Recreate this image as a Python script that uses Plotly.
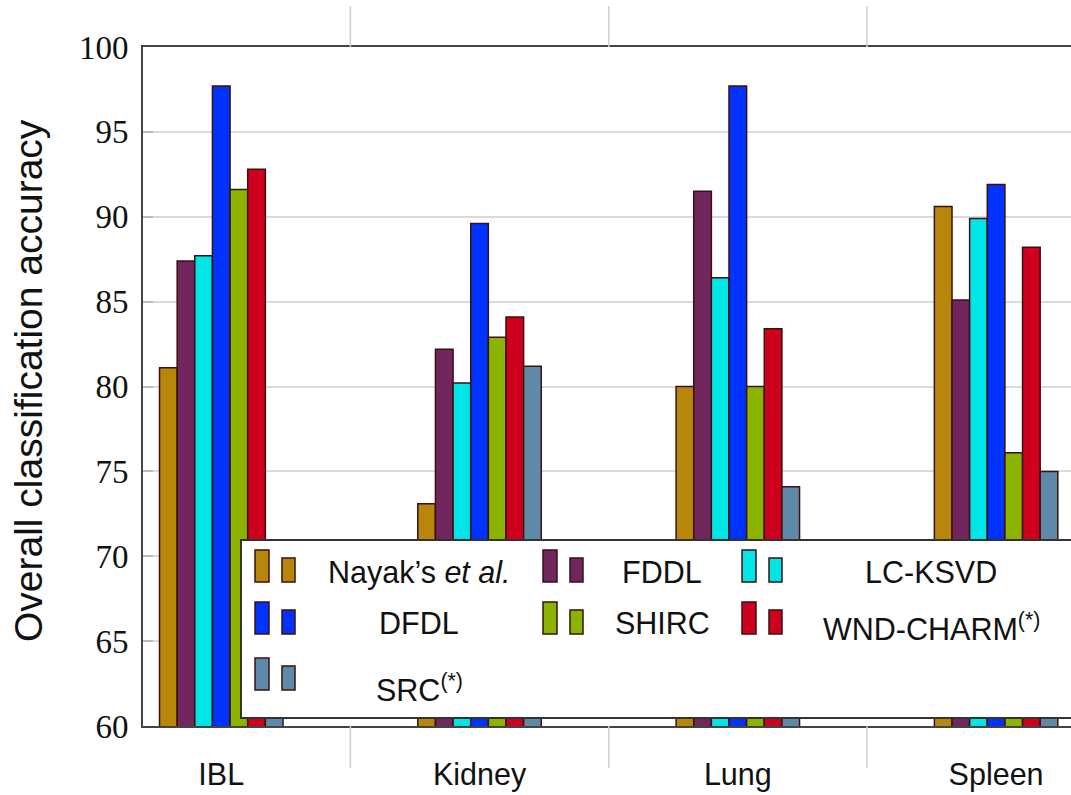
import plotly.graph_objects as go

categories = ["IBL", "Kidney", "Lung", "Spleen"]
series_names = ["Nayak’s <i>et al.</i>", "FDDL", "LC-KSVD", "DFDL", "SHIRC",
                "WND-CHARM<sup>(*)</sup>", "SRC<sup>(*)</sup>"]
nayak = [81.1, 73.1, 80.0, 90.6]
fddl = [87.4, 82.2, 91.5, 85.1]
lcksvd = [87.7, 80.2, 86.4, 89.9]
dfdl = [97.7, 89.6, 97.7, 91.9]
shirc = [91.6, 82.9, 80.0, 76.1]
wndcharm = [92.8, 84.1, 83.4, 88.2]
src = [65.0, 81.2, 74.1, 75.0]
yticks = [60, 65, 70, 75, 80, 85, 90, 95, 100]

values = [nayak, fddl, lcksvd, dfdl, shirc, wndcharm, src]
colors = ["#B8860B", "#72265E", "#00E5E5", "#0033FF", "#8AB400", "#CE001E", "#5E89A8"]
edge = "#3a1010"

W, H = 1071, 795
L, R, T, B = 143, 1071, 47, 726
PW, PH = R - L, B - T


def px(x):
    return (x - L) / PW


def py(y):
    return (B - y) / PH


fig = go.Figure()
x_idx = list(range(len(categories)))
for name, vals, col in zip(series_names, values, colors):
    fig.add_trace(go.Bar(x=x_idx, y=vals, base=0, name=name,
                         marker=dict(color=col, line=dict(color=edge, width=1.5)),
                         showlegend=False))

shapes = []
# category separator lines outside the plot
for s in [0.5, 1.5, 2.5]:
    shapes.append(dict(type="line", xref="x", yref="paper", x0=s, x1=s,
                       y0=1, y1=1 + 41 / PH, line=dict(color="#cfcfcf", width=1.5)))
    shapes.append(dict(type="line", xref="x", yref="paper", x0=s, x1=s,
                       y0=0, y1=-42 / PH, line=dict(color="#cfcfcf", width=1.5)))

# legend box
shapes.append(dict(type="rect", xref="paper", yref="paper", layer="above",
                   x0=px(241), x1=px(1080), y0=py(718), y1=py(540),
                   fillcolor="white", line=dict(color="#333333", width=2)))

col_icon_x = [255, 543, 742]
col_text_x = [419, 662, 931]
row_bottom = [582, 634, 690]
row_text_y = [572, 623, 684]
annotations = []
for i, (name, col) in enumerate(zip(series_names, colors)):
    r, c = divmod(i, 3)
    x0 = col_icon_x[c]
    yb = row_bottom[r]
    shapes.append(dict(type="rect", xref="paper", yref="paper", layer="above",
                       x0=px(x0), x1=px(x0 + 14), y0=py(yb), y1=py(yb - 32),
                       fillcolor=col, line=dict(color=edge, width=1.5)))
    shapes.append(dict(type="rect", xref="paper", yref="paper", layer="above",
                       x0=px(x0 + 27), x1=px(x0 + 40), y0=py(yb), y1=py(yb - 24),
                       fillcolor=col, line=dict(color=edge, width=1.5)))
    ty = row_text_y[r] + (4 if "sup" in name else 0)
    annotations.append(dict(xref="paper", yref="paper", x=px(col_text_x[c]), y=py(ty),
                            text=name, showarrow=False, xanchor="center", yanchor="middle",
                            font=dict(family="Liberation Sans, Arial, sans-serif", size=30.5,
                                      color="#111111")))

# y axis title
annotations.append(dict(xref="paper", yref="paper", x=px(28), y=py(381),
                        text="Overall classification accuracy", textangle=-90,
                        showarrow=False, xanchor="center", yanchor="middle",
                        font=dict(family="Liberation Sans, Arial, sans-serif", size=39,
                                  color="#111111")))

fig.update_layout(
    width=W, height=H,
    margin=dict(l=L, r=W - R, t=T, b=H - B, pad=0),
    paper_bgcolor="white", plot_bgcolor="white",
    barmode="group", bargap=0.522, bargroupgap=0,
    shapes=shapes, annotations=annotations,
    showlegend=False,
)
fig.update_xaxes(
    range=[-0.303, 3.290], tickvals=x_idx, ticktext=categories,
    showgrid=False, zeroline=False, ticks="",
    showline=True, linecolor="#444444", linewidth=2, mirror=True,
    ticklabelstandoff=20,
    tickfont=dict(family="Liberation Sans, Arial, sans-serif", size=30.5, color="#111111"),
)
fig.update_yaxes(
    range=[60, 100], tickvals=yticks,
    showgrid=True, gridcolor="#dadada", gridwidth=1.5, zeroline=False,
    ticks="inside", ticklen=10, tickcolor="#bbbbbb", tickwidth=1.5,
    showline=True, linecolor="#444444", linewidth=2, mirror=False,
    ticklabelstandoff=6,
    tickfont=dict(family="Liberation Serif, Times New Roman, serif", size=33, color="#111111"),
)

fig.write_html("out.html")
